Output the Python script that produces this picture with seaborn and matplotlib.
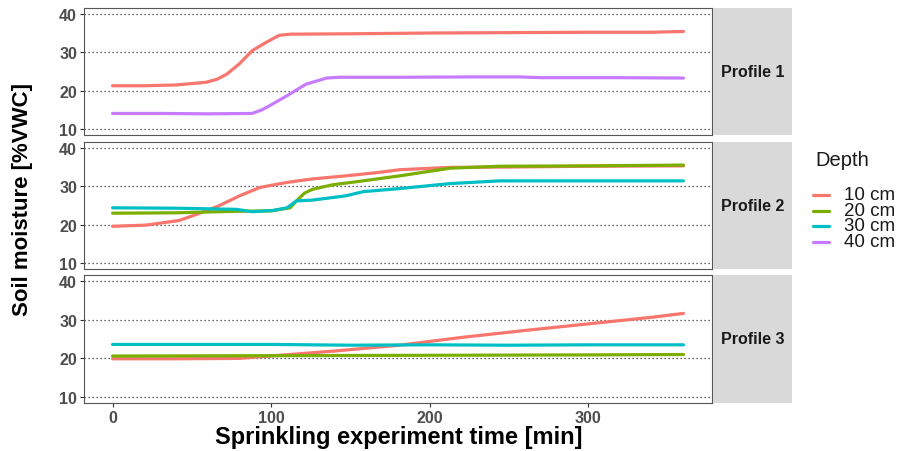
import numpy as np
import pandas as pd
import matplotlib
matplotlib.use("Agg")
import matplotlib.pyplot as plt
from matplotlib.lines import Line2D
import seaborn as sns

sns.set_theme(style="white")
plt.rcParams["font.family"] = ["Liberation Sans", "DejaVu Sans"]

depths = ["10 cm", "20 cm", "30 cm", "40 cm"]
depth_colors = ["#F8766D", "#7CAE00", "#00BFC4", "#C77CFF"]
profiles = ["Profile 1", "Profile 2", "Profile 3"]

# Profile 1
p1_10_t = [0, 20, 40, 59, 66, 72, 80, 88, 97, 105, 112, 150, 200, 250, 300, 340, 360]
p1_10_v = [21.3, 21.3, 21.5, 22.2, 23.0, 24.3, 27.0, 30.4, 32.6, 34.4, 34.7, 34.8, 35.0, 35.1, 35.2, 35.2, 35.4]
p1_40_t = [0, 30, 60, 88, 94, 99, 110, 122, 135, 143, 180, 230, 256, 270, 320, 360]
p1_40_v = [14.1, 14.1, 14.0, 14.1, 15.0, 16.1, 18.7, 21.7, 23.3, 23.5, 23.5, 23.6, 23.6, 23.4, 23.4, 23.3]

# Profile 2
p2_10_t = [0, 21, 42, 53, 67, 80, 93, 110, 126, 147, 168, 181, 213, 250, 300, 360]
p2_10_v = [19.6, 19.9, 21.1, 22.7, 24.9, 27.5, 29.7, 31.0, 31.9, 32.7, 33.6, 34.3, 34.9, 35.0, 35.2, 35.3]
p2_20_t = [0, 40, 78, 100, 112, 116, 121, 126, 139, 158, 181, 213, 244, 300, 360]
p2_20_v = [23.0, 23.1, 23.5, 23.6, 24.4, 26.2, 28.2, 29.2, 30.4, 31.4, 32.7, 34.7, 35.2, 35.3, 35.5]
p2_30_t = [0, 40, 78, 88, 101, 110, 116, 126, 147, 158, 181, 213, 244, 300, 360]
p2_30_v = [24.4, 24.3, 24.0, 23.4, 23.7, 24.4, 26.2, 26.4, 27.5, 28.6, 29.4, 30.7, 31.4, 31.4, 31.4]

# Profile 3
p3_10_t = [0, 40, 80, 99, 140, 181, 220, 260, 300, 340, 360]
p3_10_v = [19.9, 19.9, 20.0, 20.6, 21.9, 23.4, 25.4, 27.2, 28.9, 30.6, 31.6]
p3_20_t = [0, 100, 200, 300, 360]
p3_20_v = [20.6, 20.7, 20.8, 20.9, 21.0]
p3_30_t = [0, 100, 150, 200, 250, 300, 360]
p3_30_v = [23.6, 23.6, 23.4, 23.5, 23.4, 23.5, 23.5]

series = [
    ("Profile 1", "10 cm", p1_10_t, p1_10_v),
    ("Profile 1", "40 cm", p1_40_t, p1_40_v),
    ("Profile 2", "10 cm", p2_10_t, p2_10_v),
    ("Profile 2", "20 cm", p2_20_t, p2_20_v),
    ("Profile 2", "30 cm", p2_30_t, p2_30_v),
    ("Profile 3", "10 cm", p3_10_t, p3_10_v),
    ("Profile 3", "20 cm", p3_20_t, p3_20_v),
    ("Profile 3", "30 cm", p3_30_t, p3_30_v),
]

frames = []
for prof, dep, t, v in series:
    frames.append(pd.DataFrame({"time": t, "moisture": v, "depth": dep, "profile": prof}))
df = pd.concat(frames, ignore_index=True)

W, H = 904, 452
fig = plt.figure(figsize=(W / 100, H / 100), dpi=100)
fig.patch.set_facecolor("white")

panel_left, panel_right = 84, 712
strip_left, strip_right = 713, 792
panel_rows = [(9, 136), (143, 270), (276, 404)]
palette = dict(zip(depths, depth_colors))
tick_color = "#4D4D4D"

for prof, (top, bottom) in zip(profiles, panel_rows):
    ax = fig.add_axes([panel_left / W, 1 - bottom / H,
                       (panel_right - panel_left) / W, (bottom - top) / H])
    sub = df[df["profile"] == prof]
    sns.lineplot(data=sub, x="time", y="moisture", hue="depth", palette=palette,
                 hue_order=[d for d in depths if d in sub["depth"].unique()],
                 linewidth=2.3, legend=False, ax=ax, estimator=None, sort=True)
    ax.set_xlim(-18, 378)
    ax.set_ylim(8.5, 41.5)
    ax.set_yticks([10, 20, 30, 40])
    ax.set_xticks([0, 100, 200, 300])
    for yv in [10, 20, 30, 40]:
        ax.axhline(yv, color="#333333", linestyle=(0, (1, 2.2)), linewidth=0.9, zorder=0)
    ax.set_xlabel("")
    ax.set_ylabel("")
    for s in ax.spines.values():
        s.set_color("#555555")
        s.set_linewidth(0.8)
    ax.tick_params(axis="y", length=3, width=0.8, color="#333333", labelsize=11.5,
                   labelcolor=tick_color, pad=2, left=True)
    for lbl in ax.get_yticklabels():
        lbl.set_fontweight("bold")
    if prof == "Profile 3":
        ax.tick_params(axis="x", length=3, width=0.8, color="#333333", labelsize=11.5,
                       labelcolor=tick_color, pad=2, bottom=True)
        for lbl in ax.get_xticklabels():
            lbl.set_fontweight("bold")
    else:
        ax.tick_params(axis="x", bottom=False, labelbottom=False)

    sax = fig.add_axes([strip_left / W, 1 - bottom / H,
                        (strip_right - strip_left) / W, (bottom - top) / H])
    sax.set_facecolor("#D9D9D9")
    sax.set_xticks([])
    sax.set_yticks([])
    for s in sax.spines.values():
        s.set_visible(False)
    sax.text(0.5, 0.5, prof, ha="center", va="center", fontsize=11.5,
             fontweight="bold", color="#1A1A1A", transform=sax.transAxes)

fig.text(23 / W, 1 - 199 / H, "Soil moisture [%VWC]", rotation=90, ha="center",
         va="center", fontsize=16, fontweight="bold", color="black")
fig.text(399 / W, 1 - 438 / H, "Sprinkling experiment time [min]", ha="center",
         va="center", fontsize=17, fontweight="bold", color="black")

# Depth legend: title, colour keys and labels
fig.text(815 / W, 1 - 160 / H, "Depth", ha="left", va="center",
         fontsize=14.5, color="#1A1A1A")
for i, (dep, col) in enumerate(zip(depths, depth_colors)):
    yk = 1 - (196 + i * 15.5) / H
    fig.add_artist(Line2D([813 / W, 829 / W], [yk, yk], color=col, lw=2.3,
                          transform=fig.transFigure))
    fig.text(844 / W, yk, dep, ha="left", va="center", fontsize=13.5, color="#1A1A1A")

fig.savefig("out.png", dpi=100, facecolor="white")
